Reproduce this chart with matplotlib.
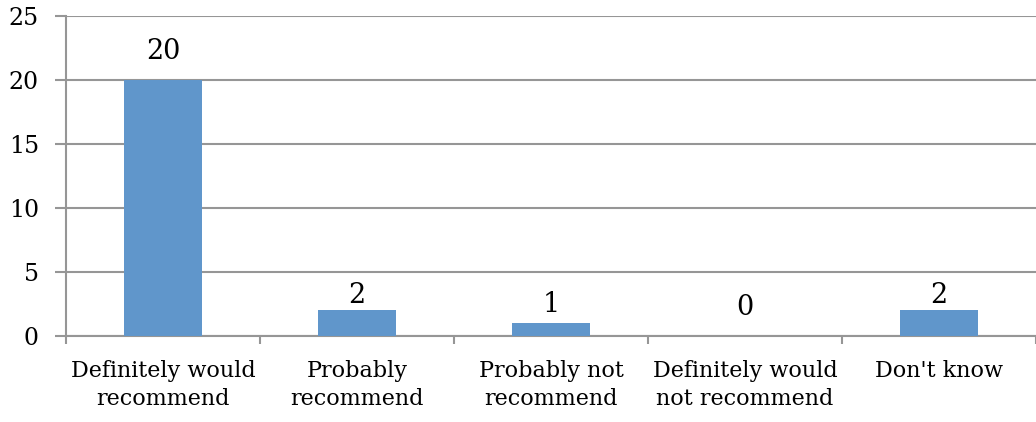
import matplotlib
matplotlib.use("Agg")
import matplotlib.pyplot as plt

categories = ["Definitely would\nrecommend", "Probably\nrecommend", "Probably not\nrecommend",
              "Definitely would\nnot recommend", "Don't know"]
counts = [20, 2, 1, 0, 2]
y_ticks = [0, 5, 10, 15, 20, 25]

plt.rcParams['font.family'] = ['DejaVu Serif']
grid_color = '#969696'
bar_color = '#6096cb'
# gap (pt) between bar top and value label baseline, as in the source
label_gap = [15, 5, 8, 15, 5]

fig = plt.figure(figsize=(10.36, 4.22), dpi=100)
ax = fig.add_axes([66 / 1036, 86 / 422, 1 - 66 / 1036, 320 / 422])

x = range(len(categories))
bars = ax.bar(x, counts, width=0.4, color=bar_color, zorder=3)

for xi, v, g in zip(x, counts, label_gap):
    ax.annotate(str(v), (xi, v), xytext=(0, g), textcoords='offset points',
                ha='center', va='baseline', fontsize=19.5)

ax.set_xlim(-0.5, len(categories) - 0.5)
ax.set_ylim(0, 25)
ax.set_yticks(y_ticks)
ax.yaxis.grid(True, color=grid_color, linewidth=1.5)
ax.set_axisbelow(True)

# category ticks sit between the groups
ax.set_xticks([i - 0.5 for i in range(len(categories) + 1)])
ax.set_xticklabels([])
ax.set_xticks(list(x), minor=True)
ax.set_xticklabels(categories, minor=True, fontsize=16, linespacing=1.4)
ax.tick_params(axis='x', which='minor', length=0, pad=17)
ax.tick_params(axis='x', which='major', length=6, color=grid_color, width=1.5)
ax.tick_params(axis='y', length=8, color=grid_color, width=1.5, labelsize=17, pad=11.5)

for side in ['top', 'right']:
    ax.spines[side].set_visible(False)
for side in ['left', 'bottom']:
    ax.spines[side].set_color(grid_color)
    ax.spines[side].set_linewidth(1.5)

fig.savefig('out.png', dpi=100)
